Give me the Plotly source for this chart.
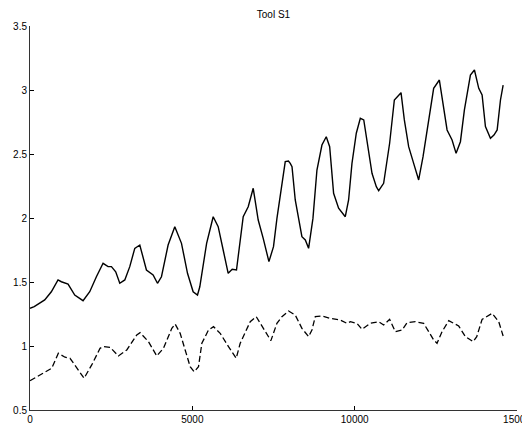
import plotly.graph_objects as go

# Upper series (solid)
upper_x = [0, 130, 453, 657, 863, 966, 1172, 1378, 1634, 1840, 2045, 2251, 2405, 2508, 2640, 2765,
           2920, 3073, 3227, 3382, 3586, 3792, 3926, 4049, 4254, 4460, 4666, 4851, 5025, 5159, 5230,
           5334, 5440, 5642, 5796, 5950, 6104, 6228, 6360, 6567, 6721, 6875, 7029, 7183, 7359, 7500,
           7606, 7862, 7960, 8016, 8070, 8170, 8272, 8375, 8480, 8581, 8715, 8838, 8992, 9125, 9230,
           9351, 9505, 9711, 9813, 9917, 10050, 10174, 10280, 10399, 10534, 10667, 10740, 10892,
           11077, 11222, 11428, 11530, 11663, 11817, 11971, 12106, 12230, 12433, 12609, 12723,
           12846, 13000, 13124, 13257, 13380, 13565, 13689, 13822, 13925, 14028, 14182, 14290,
           14389, 14491, 14573]
upper_y = [1.295, 1.307, 1.36, 1.424, 1.516, 1.502, 1.484, 1.398, 1.354, 1.424, 1.541, 1.646, 1.62,
           1.62, 1.58, 1.49, 1.516, 1.62, 1.763, 1.789, 1.594, 1.555, 1.49, 1.541, 1.789, 1.932,
           1.802, 1.568, 1.424, 1.398, 1.463, 1.646, 1.802, 2.01, 1.932, 1.75, 1.568, 1.599, 1.594,
           2.01, 2.088, 2.232, 1.984, 1.841, 1.659, 1.776, 1.997, 2.44, 2.445, 2.427, 2.40, 2.141,
           1.997, 1.854, 1.828, 1.763, 1.997, 2.375, 2.57, 2.635, 2.557, 2.193, 2.076, 2.01, 2.141,
           2.427, 2.662, 2.779, 2.766, 2.557, 2.349, 2.245, 2.213, 2.271, 2.584, 2.922, 2.979,
           2.766, 2.557, 2.427, 2.297, 2.479, 2.688, 3.013, 3.078, 2.896, 2.688, 2.609, 2.505,
           2.596, 2.844, 3.117, 3.156, 3.013, 2.961, 2.714, 2.623, 2.648, 2.688, 2.922, 3.039]

# Lower series (dashed)
lower_x = [0, 411, 668, 873, 1079, 1233, 1439, 1665, 1901, 2158, 2261, 2466, 2723, 2981, 3289, 3391,
           3648, 3905, 4111, 4368, 4470, 4625, 4779, 4933, 5056, 5190, 5293, 5498, 5652, 5858, 6114,
           6351, 6474, 6783, 6968, 7091, 7297, 7420, 7605, 7759, 7965, 8170, 8375, 8581, 8684,
           8787, 8992, 9250, 9557, 9763, 9866, 10071, 10225, 10482, 10738, 10892, 11077, 11253,
           11459, 11613, 11869, 12125, 12280, 12434, 12537, 12692, 12897, 13051, 13205, 13411,
           13648, 13760, 13925, 14234, 14438, 14573]
lower_y = [0.729, 0.787, 0.826, 0.943, 0.912, 0.904, 0.826, 0.748, 0.852, 0.982, 0.995, 0.99, 0.922,
           0.969, 1.086, 1.104, 1.034, 0.922, 0.982, 1.138, 1.172, 1.099, 0.969, 0.838, 0.799,
           0.838, 1.021, 1.125, 1.151, 1.099, 0.995, 0.904, 1.021, 1.19, 1.229, 1.177, 1.086,
           1.042, 1.177, 1.229, 1.273, 1.242, 1.138, 1.073, 1.125, 1.229, 1.234, 1.216, 1.203,
           1.177, 1.19, 1.177, 1.13, 1.177, 1.19, 1.164, 1.208, 1.112, 1.125, 1.182, 1.19, 1.177,
           1.112, 1.047, 1.021, 1.112, 1.198, 1.177, 1.156, 1.073, 1.034, 1.073, 1.208, 1.255,
           1.19, 1.078]

x_ticks = [0, 5000, 10000, 15000]
x_tick_labels = ["0", "5000", "10000", "15000"]
y_ticks = [0.5, 1, 1.5, 2, 2.5, 3, 3.5]
y_tick_labels = ["0.5", "1", "1.5", "2", "2.5", "3", "3.5"]

fig = go.Figure()
fig.add_trace(go.Scatter(x=upper_x, y=upper_y, mode="lines",
                         line=dict(color="black", width=1.4), showlegend=False))
fig.add_trace(go.Scatter(x=lower_x, y=lower_y, mode="lines",
                         line=dict(color="black", width=1.3, dash="6px,3px"), showlegend=False))

# page body adds an 8px offset; figure sized so it ends at the window edge
W, H = 522, 420
fig.update_layout(
    width=W, height=H,
    margin=dict(l=22, r=13, t=18, b=18, autoexpand=False),
    paper_bgcolor="white", plot_bgcolor="white",
    font=dict(family="Liberation Sans, Arial, sans-serif", size=10, color="black"),
    title=dict(text="Tool S1", x=0.5, xref="paper", y=1 - 6 / H, yanchor="middle",
               xanchor="center", font=dict(size=10, color="black"), automargin=False),
    xaxis=dict(range=[0, 15000], tickvals=x_ticks, ticktext=x_tick_labels,
               ticks="inside", ticklen=4, tickcolor="black", showline=True,
               linecolor="#333333", linewidth=1, showgrid=False, zeroline=False,
               mirror=False, automargin=False, ticklabeloverflow="allow",
               ticklabelstandoff=0),
    yaxis=dict(range=[0.5, 3.5], tickvals=y_ticks, ticktext=y_tick_labels,
               ticks="inside", ticklen=4, tickcolor="black", showline=True,
               linecolor="#333333", linewidth=1, showgrid=False, zeroline=False,
               mirror=False, automargin=False, ticklabeloverflow="allow",
               ticklabelstandoff=0),
)

fig.write_html("out.html")
